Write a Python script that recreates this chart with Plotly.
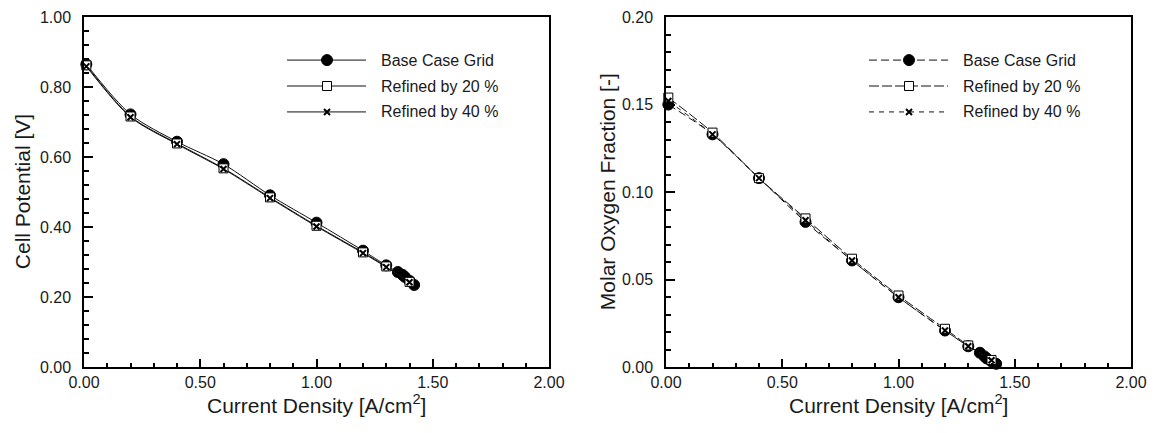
import plotly.graph_objects as go

# ---- data: cell potential vs current density ----
cd_base = [0.01, 0.20, 0.40, 0.60, 0.80, 1.00, 1.20, 1.30, 1.35, 1.37, 1.38, 1.40, 1.42]
cd_ref = [0.01, 0.20, 0.40, 0.60, 0.80, 1.00, 1.20, 1.30, 1.40]

v_base = [0.865, 0.722, 0.644, 0.580, 0.491, 0.413, 0.333, 0.291, 0.272, 0.264, 0.258, 0.247, 0.235]
v_ref20 = [0.862, 0.716, 0.639, 0.568, 0.485, 0.404, 0.328, 0.288, 0.244]
v_ref40 = [0.859, 0.714, 0.637, 0.566, 0.483, 0.402, 0.326, 0.286, 0.243]

# ---- data: molar oxygen fraction vs current density ----
o2_base = [0.150, 0.133, 0.108, 0.083, 0.061, 0.040, 0.021, 0.012, 0.0083, 0.0062, 0.0050, 0.0034, 0.0020]
o2_ref20 = [0.154, 0.134, 0.108, 0.085, 0.062, 0.041, 0.022, 0.0125, 0.0042]
o2_ref40 = [0.152, 0.133, 0.108, 0.084, 0.061, 0.040, 0.021, 0.0120, 0.0040]

series_names = ["Base Case Grid", "Refined by 20 %", "Refined by 40 %"]

X_RANGE = [0, 2]
Y_RANGE_L = [0, 1]
Y_RANGE_R = [0, 0.2]

FONT = "Liberation Sans, Arial, sans-serif"
TXT = "#1a1a1a"
LINE = "#111111"

marker_styles = [
    dict(symbol="circle", size=11, color="black", line=dict(color="black", width=1)),
    dict(symbol="square", size=9, color="white", line=dict(color="black", width=1)),
    dict(symbol="x-thin", size=6, color="black", line=dict(color="black", width=2)),
]
dash_left = ["solid", "solid", "solid"]
dash_right = ["8px,4px", "10px,3px", "5px,5px"]

fig = go.Figure()

left_x = [cd_base, cd_ref, cd_ref]
left_y = [v_base, v_ref20, v_ref40]
right_y = [o2_base, o2_ref20, o2_ref40]

for i in range(3):
    fig.add_trace(go.Scatter(
        x=left_x[i], y=left_y[i], mode="lines+markers", name=series_names[i],
        line=dict(color=LINE, width=1, dash=dash_left[i], shape="spline", smoothing=0.8),
        marker=marker_styles[i], cliponaxis=False, showlegend=False,
        xaxis="x", yaxis="y"))
for i in range(3):
    fig.add_trace(go.Scatter(
        x=left_x[i], y=right_y[i], mode="lines+markers", name=series_names[i],
        line=dict(color=LINE, width=1, dash=dash_right[i], shape="spline", smoothing=0.8),
        marker=marker_styles[i], cliponaxis=False, showlegend=False,
        xaxis="x2", yaxis="y2"))

# ---- in-plot legend keys, placed at fractions of each panel ----
key_x = [0.4366, 0.5226, 0.6065]   # line start, marker, line end (fraction of panel width)
key_rows = [0.877, 0.803, 0.729]   # fraction of panel height
text_x = 0.634


def frac(rng, f):
    return rng[0] + f * (rng[1] - rng[0])


for xa, ya, yr, dashes in [("x", "y", Y_RANGE_L, dash_left), ("x2", "y2", Y_RANGE_R, dash_right)]:
    for i in range(3):
        yk = frac(yr, key_rows[i])
        fig.add_trace(go.Scatter(
            x=[frac(X_RANGE, key_x[0]), frac(X_RANGE, key_x[2])], y=[yk, yk], mode="lines",
            line=dict(color=LINE, width=1, dash=dashes[i]), showlegend=False,
            hoverinfo="skip", xaxis=xa, yaxis=ya))
        fig.add_trace(go.Scatter(
            x=[frac(X_RANGE, key_x[1])], y=[yk], mode="markers",
            marker=marker_styles[i], showlegend=False, hoverinfo="skip",
            xaxis=xa, yaxis=ya))
        fig.add_annotation(
            x=text_x, y=key_rows[i], xref=xa + " domain", yref=ya + " domain",
            text=series_names[i], showarrow=False, xanchor="left", yanchor="middle",
            font=dict(family=FONT, size=16, color=TXT))

W, H = 1157, 433
dom_l = [84 / W, 549 / W]
dom_r = [666 / W, 1131 / W]
dom_y = [1 - 367.3 / H, 1 - 17 / H]

common_axis = dict(
    showgrid=False, zeroline=False, showline=True, linecolor="black", linewidth=1.5,
    mirror=True, ticks="inside", ticklen=9, tickwidth=1.5, tickcolor="black",
    tickformat=".2f", tickfont=dict(family=FONT, size=16, color=TXT),
    automargin=False,
)


def minor_ticks(step):
    return dict(dtick=step, ticks="inside", ticklen=5, tickcolor="black", tickwidth=1.5)


fig.update_layout(
    width=W, height=H,
    margin=dict(l=0, r=0, t=0, b=0, autoexpand=False),
    paper_bgcolor="white", plot_bgcolor="white",
    font=dict(family=FONT, color=TXT),
    xaxis=dict(common_axis, domain=dom_l, range=X_RANGE, dtick=0.5, anchor="y",
               minor=minor_ticks(0.1)),
    yaxis=dict(common_axis, domain=dom_y, range=Y_RANGE_L, dtick=0.2, anchor="x",
               ticklabelstandoff=8, minor=minor_ticks(0.04)),
    xaxis2=dict(common_axis, domain=dom_r, range=X_RANGE, dtick=0.5, anchor="y2",
                minor=minor_ticks(0.1)),
    yaxis2=dict(common_axis, domain=dom_y, range=Y_RANGE_R, dtick=0.05, anchor="x2",
                ticklabelstandoff=8, minor=minor_ticks(0.01)),
)

# axis titles
title_font = dict(family=FONT, size=21, color=TXT)
for dom in (dom_l, dom_r):
    fig.add_annotation(
        x=(dom[0] + dom[1]) / 2, y=1 - 404 / H, xref="paper", yref="paper",
        text="Current Density [A/cm<sup>2</sup>]", showarrow=False,
        xanchor="center", yanchor="middle", font=title_font)
fig.add_annotation(
    x=22 / W, y=(dom_y[0] + dom_y[1]) / 2, xref="paper", yref="paper",
    text="Cell Potential [V]", textangle=-90, showarrow=False,
    xanchor="center", yanchor="middle", font=title_font)
fig.add_annotation(
    x=607 / W, y=(dom_y[0] + dom_y[1]) / 2, xref="paper", yref="paper",
    text="Molar Oxygen Fraction [-]", textangle=-90, showarrow=False,
    xanchor="center", yanchor="middle", font=title_font)

fig.write_html("out.html")
